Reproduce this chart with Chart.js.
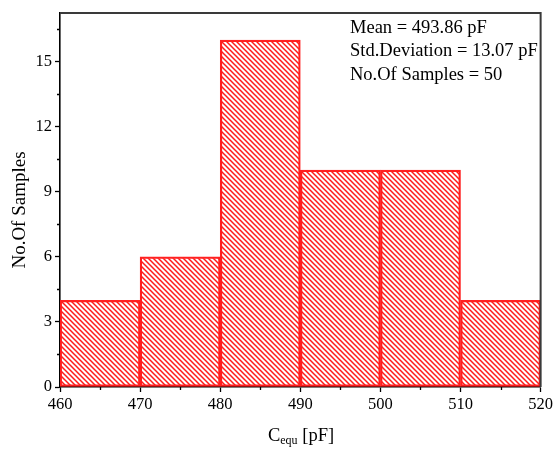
<!DOCTYPE html>
<html><head><meta charset="utf-8">
<script src="https://cdn.jsdelivr.net/npm/chart.js@4.4.0/dist/chart.umd.min.js"></script>
<style>html,body{margin:0;padding:0;background:#fff}#wrap{width:556px;height:449px;position:relative}</style>
</head><body><div id="wrap"><canvas id="c" width="556" height="449"></canvas></div>
<script>
const binCenters = [465, 475, 485, 495, 505, 515];
const counts = [4, 6, 16, 10, 10, 4];
const xTickRange = [460, 520, 10];
const yTickRange = [0, 17.25, 3];
const statsLines = ['Mean = 493.86 pF', 'Std.Deviation = 13.07 pF', 'No.Of Samples = 50'];
const yTitle = 'No.Of Samples';
const xTitleMain = 'C', xTitleSub = 'equ', xTitleUnit = ' [pF]';
const FONT = "'Liberation Serif', 'Times New Roman', serif";

function hatch() {
  const s = 5;
  const c = document.createElement('canvas');
  c.width = s; c.height = s;
  const g = c.getContext('2d');
  g.strokeStyle = '#ff1a1a'; g.lineWidth = 1.5;
  g.beginPath();
  g.moveTo(-1, -1); g.lineTo(s + 1, s + 1);
  g.moveTo(-1, s - 1); g.lineTo(1, s + 1);
  g.moveTo(s - 1, -1); g.lineTo(s + 1, 1);
  g.stroke();
  return g.createPattern(c, 'repeat');
}

const extras = {
  id: 'extras',
  afterDraw(chart) {
    const ctx = chart.ctx, a = chart.chartArea;
    const xs = chart.scales.x, ys = chart.scales.y;
    ctx.save();
    // frame top & right
    ctx.strokeStyle = '#3a3a3a'; ctx.lineWidth = 2;
    ctx.beginPath();
    ctx.moveTo(a.left, a.top); ctx.lineTo(a.right, a.top); ctx.lineTo(a.right, a.bottom);
    ctx.stroke();
    // minor ticks
    ctx.strokeStyle = '#000'; ctx.lineWidth = 1.3;
    ctx.beginPath();
    for (let v = xTickRange[0] + xTickRange[2] / 2; v < xTickRange[1]; v += xTickRange[2]) {
      const px = Math.round(xs.getPixelForValue(v)) + 0.5;
      ctx.moveTo(px, a.bottom); ctx.lineTo(px, a.bottom + 3);
    }
    for (let v = yTickRange[2] / 2; v < yTickRange[1]; v += yTickRange[2]) {
      const py = Math.round(ys.getPixelForValue(v)) + 0.5;
      ctx.moveTo(a.left, py); ctx.lineTo(a.left - 3, py);
    }
    ctx.stroke();
    // stats text
    ctx.fillStyle = '#000';
    ctx.font = '18.5px ' + FONT;
    ctx.textBaseline = 'middle'; ctx.textAlign = 'left';
    statsLines.forEach((t, i) => ctx.fillText(t, 350, 28 + i * 23.5));
    // y title
    ctx.save();
    ctx.translate(20, 210); ctx.rotate(-Math.PI / 2);
    ctx.textAlign = 'center'; ctx.font = '19px ' + FONT;
    ctx.fillText(yTitle, 0, 0);
    ctx.restore();
    // x title with subscript
    ctx.textAlign = 'left'; ctx.textBaseline = 'alphabetic';
    const big = '18.5px ' + FONT, small = '12px ' + FONT;
    ctx.font = big; const w1 = ctx.measureText(xTitleMain).width;
    const w3 = ctx.measureText(xTitleUnit).width;
    ctx.font = small; const w2 = ctx.measureText(xTitleSub).width;
    let x0 = 301 - (w1 + w2 + w3) / 2;
    const base = 441;
    ctx.font = big; ctx.fillText(xTitleMain, x0, base);
    ctx.font = small; ctx.fillText(xTitleSub, x0 + w1, base + 3);
    ctx.font = big; ctx.fillText(xTitleUnit, x0 + w1 + w2, base);
    ctx.restore();
  }
};

new Chart(document.getElementById('c'), {
  type: 'bar',
  data: {
    datasets: [{
      data: binCenters.map((x, i) => ({ x: x, y: counts[i] })),
      backgroundColor: hatch(),
      borderColor: '#ff2020',
      borderWidth: 1.6,
      borderSkipped: false,
      barPercentage: 1,
      categoryPercentage: 1
    }]
  },
  options: {
    responsive: false,
    animation: false,
    layout: { padding: { top: 10, right: 14, left: 0, bottom: 0 } },
    plugins: { legend: { display: false }, tooltip: { enabled: false } },
    scales: {
      x: {
        type: 'linear', offset: false,
        min: xTickRange[0], max: xTickRange[1],
        grid: { offset: false, drawOnChartArea: false, drawTicks: true, tickLength: 5, color: '#000', tickWidth: 1.3 },
        border: { display: true, color: '#000', width: 1.6 },
        ticks: { stepSize: xTickRange[2], color: '#000', font: { family: FONT, size: 16.5 }, padding: 3, maxRotation: 0 },
        afterFit(s) { s.height = 62; }
      },
      y: {
        min: yTickRange[0], max: yTickRange[1],
        grid: { drawOnChartArea: false, drawTicks: true, tickLength: 5, color: '#000', tickWidth: 1.3 },
        border: { display: true, color: '#000', width: 1.6 },
        ticks: { stepSize: yTickRange[2], includeBounds: false, color: '#000', font: { family: FONT, size: 16.5 }, padding: 3 },
        afterFit(s) { s.width = 60; }
      }
    }
  },
  plugins: [extras]
});
</script></body></html>
